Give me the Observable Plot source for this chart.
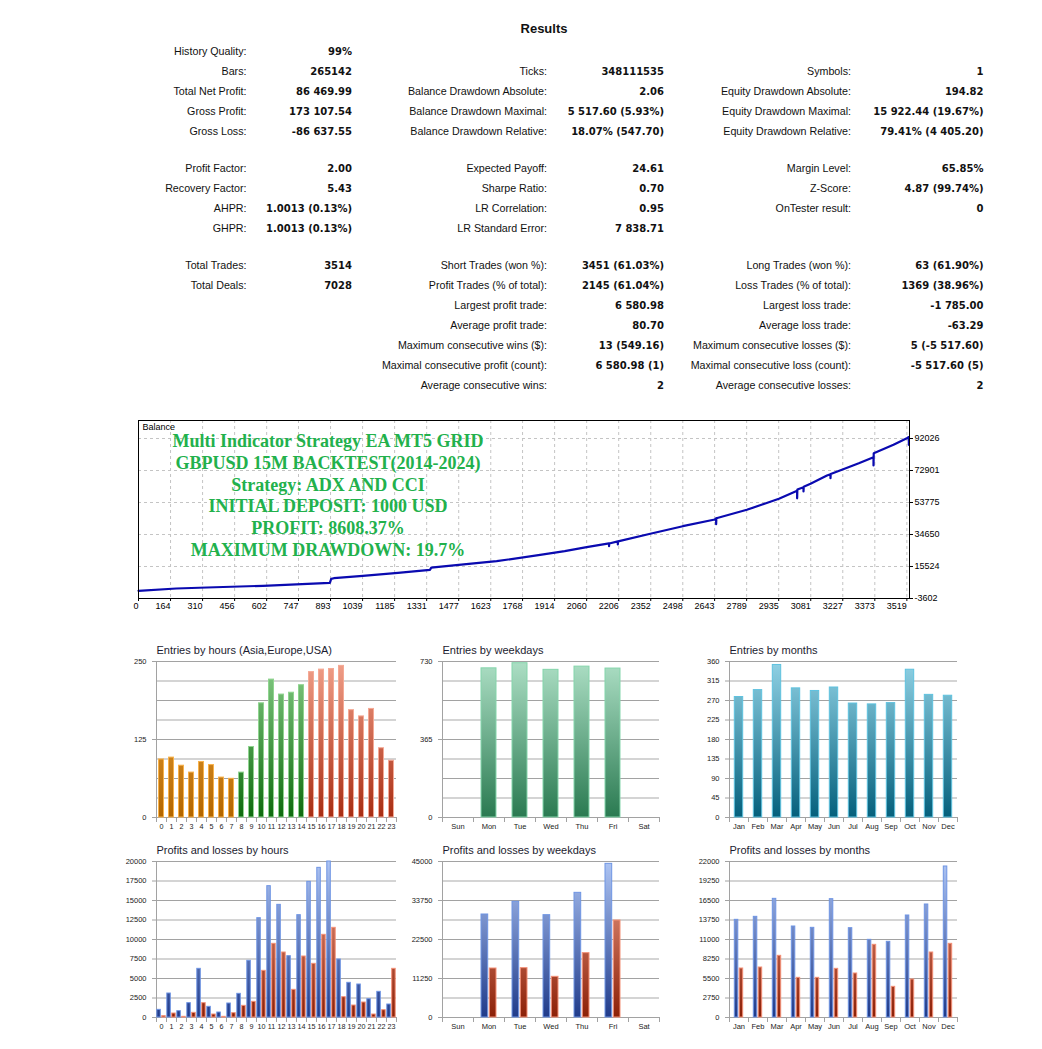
<!DOCTYPE html>
<html><head><meta charset="utf-8">
<script src="https://cdn.jsdelivr.net/npm/d3@7"></script>
<script src="https://cdn.jsdelivr.net/npm/@observablehq/plot@0.6"></script>
<style>
body{margin:0;background:#fff;}
#page{position:relative;width:1042px;height:1049px;overflow:hidden;background:#fff;font-family:"Liberation Sans",Arial,sans-serif;color:#111;}
.cell{position:absolute;font-size:10.7px;line-height:14px;white-space:nowrap;text-align:right;width:320px;}
.val{font-weight:bold;font-family:"DejaVu Sans","Liberation Sans",sans-serif;font-size:10px;margin-top:0.5px;}
#title{position:absolute;left:444px;width:200px;top:21px;text-align:center;font-weight:bold;font-size:13px;}
#overlay{position:absolute;left:128px;width:400px;top:431px;text-align:center;font-family:"Liberation Serif","Times New Roman",serif;font-weight:bold;font-size:18px;line-height:21.8px;color:#22b14c;white-space:nowrap;}
svg.chart{position:absolute;}
</style></head>
<body><div id="page"></div>
<script>
// ---------------- DATA ----------------
const summaryCol1 = [
  ["History Quality:", "99%"], ["Bars:", "265142"], ["Total Net Profit:", "86 469.99"], ["Gross Profit:", "173 107.54"], ["Gross Loss:", "-86 637.55"],
  ["Profit Factor:", "2.00"], ["Recovery Factor:", "5.43"], ["AHPR:", "1.0013 (0.13%)"], ["GHPR:", "1.0013 (0.13%)"],
  ["Total Trades:", "3514"], ["Total Deals:", "7028"], null, null, null, null, null
];
const summaryCol2 = [
  null, ["Ticks:", "348111535"], ["Balance Drawdown Absolute:", "2.06"], ["Balance Drawdown Maximal:", "5 517.60 (5.93%)"], ["Balance Drawdown Relative:", "18.07% (547.70)"],
  ["Expected Payoff:", "24.61"], ["Sharpe Ratio:", "0.70"], ["LR Correlation:", "0.95"], ["LR Standard Error:", "7 838.71"],
  ["Short Trades (won %):", "3451 (61.03%)"], ["Profit Trades (% of total):", "2145 (61.04%)"], ["Largest profit trade:", "6 580.98"],
  ["Average profit trade:", "80.70"], ["Maximum consecutive wins ($):", "13 (549.16)"], ["Maximal consecutive profit (count):", "6 580.98 (1)"], ["Average consecutive wins:", "2"]
];
const summaryCol3 = [
  null, ["Symbols:", "1"], ["Equity Drawdown Absolute:", "194.82"], ["Equity Drawdown Maximal:", "15 922.44 (19.67%)"], ["Equity Drawdown Relative:", "79.41% (4 405.20)"],
  ["Margin Level:", "65.85%"], ["Z-Score:", "4.87 (99.74%)"], ["OnTester result:", "0"], null,
  ["Long Trades (won %):", "63 (61.90%)"], ["Loss Trades (% of total):", "1369 (38.96%)"], ["Largest loss trade:", "-1 785.00"],
  ["Average loss trade:", "-63.29"], ["Maximum consecutive losses ($):", "5 (-5 517.60)"], ["Maximal consecutive loss (count):", "-5 517.60 (5)"], ["Average consecutive losses:", "2"]
];
const overlayLines = [
  "Multi Indicator Strategy EA MT5 GRID",
  "GBPUSD 15M BACKTEST(2014-2024)",
  "Strategy: ADX AND CCI",
  "INITIAL DEPOSIT: 1000 USD",
  "PROFIT: 8608.37%",
  "MAXIMUM DRAWDOWN: 19.7%"
];

const balanceXTicks = [0,164,310,456,602,747,893,1039,1185,1331,1477,1623,1768,1914,2060,2206,2352,2498,2643,2789,2935,3081,3227,3373,3519];
const balanceYTicks = [-3602, 15524, 34650, 53775, 72901, 92026];
const tradeDomain = [18, 3531];
const balanceDomain = [-3602, 102785];
const balanceTrade = [18,190,330,585,890,896,908,1040,1200,1346,1352,1374,1500,1650,1848,1960,2060,
  2162,2162,2163,2202,2202,2203,2350,2498,2644,2650,2650,2651,2790,2936,3019,3019,3020,3048,3048,3049,
  3080,3155,3171,3171,3172,3226,3300,3367,3367,3368,3458,3519,3528,3528];
const balanceValue = [1000,2380,2970,3990,5780,8100,8530,9900,11700,13550,14800,15100,16800,18690,22520,24700,27060,
  29300,27650,29300,30500,28670,30500,35070,39610,43600,44400,40800,44400,49410,55990,60800,56300,61500,62900,60350,63200,
  64950,69920,70700,68300,70800,73500,77200,80850,75890,83240,88270,92210,92900,88270];

const hourLabels = ["0","1","2","3","4","5","6","7","8","9","10","11","12","13","14","15","16","17","18","19","20","21","22","23"];
const weekdays = ["Sun","Mon","Tue","Wed","Thu","Fri","Sat"];
const months = ["Jan","Feb","Mar","Apr","May","Jun","Jul","Aug","Sep","Oct","Nov","Dec"];
const sessionFirstHour = [["Asia", 0], ["Europe", 8], ["USA", 15]];

const entriesByHour = [93,96,83,72,89,84,64,62,72,113,183,221,197,200,212,233,237,238,243,172,162,174,111,91];
const entriesByWeekday = [0,698,722,691,706,697,0];
const entriesByMonth = [278,294,352,298,292,300,263,261,264,341,283,281];

const profitByHour = [983,3077,812,1838,6239,1368,641,1795,3034,7265,12735,16838,14444,7863,13120,17393,19188,20000,7436,4444,4231,2350,3291,1667];
const lossByHour = [171,513,85,598,1838,385,85,556,1496,2009,5983,9444,8333,3547,7821,6880,10598,11496,2607,1538,1923,385,940,6239];
const profitByWeekday = [0,29712,33365,29519,35962,44327,0];
const lossByWeekday = [0,14135,14231,11731,18558,27981,0];
const profitByMonth = [13774,14197,16735,12833,12645,16688,12598,10953,10671,14385,15936,21295];
const lossByMonth = [6910,7051,8697,5594,5594,6863,6205,10248,4325,5359,9167,10389];

// ---------------- STYLES ----------------
const FONT = '"Liberation Sans", Arial, sans-serif';
const palette = {
  gOrange: ["#f6ae45", "#b26600", "#f8b24a"],
  gGreen:  ["#86cc86", "#0f6b0f", "#8fd48f"],
  gRed:    ["#f1a08a", "#a82d12", "#f5a995"],
  gTeal:   ["#addfc5", "#2a7a51", "#84d5ab"],
  gMonth:  ["#91d2e5", "#05607c", "#5ec2df"],
  gProfit: ["#aec5f4", "#203b8a", "#6f95e4"],
  gLoss:   ["#f2a590", "#8c2007", "#f49077"]
};
const sessionGrad = {Asia: "gOrange", Europe: "gGreen", USA: "gRed"};

const page = document.getElementById("page");

// gradients (user space of each bar chart: frame top 21 → bottom 177)
const defsSvg = document.createElementNS("http://www.w3.org/2000/svg", "svg");
defsSvg.setAttribute("width", "0"); defsSvg.setAttribute("height", "0");
defsSvg.style.position = "absolute";
defsSvg.innerHTML = "<defs>" + Object.entries(palette).map(([id, [a, b]]) =>
  `<linearGradient id="${id}" gradientUnits="userSpaceOnUse" x1="0" y1="21" x2="0" y2="177"><stop offset="0" stop-color="${a}"/><stop offset="1" stop-color="${b}"/></linearGradient>`).join("") + "</defs>";
page.appendChild(defsSvg);

// ---------------- RESULTS TABLE ----------------
const t = document.createElement("div"); t.id = "title"; t.textContent = "Results"; page.appendChild(t);
const rightEdges = [246.5, 352, 547, 664, 851, 983.5];
const rowY = i => 51 + 20 * i + (i >= 5 ? 17 : 0) + (i >= 9 ? 17 : 0);
[summaryCol1, summaryCol2, summaryCol3].forEach((col, c) => {
  col.forEach((row, i) => {
    if (!row) return;
    row.forEach((txt, k) => {
      const d = document.createElement("div");
      d.className = "cell" + (k ? " val" : "");
      d.textContent = txt;
      d.style.left = (rightEdges[c * 2 + k] - 320) + "px";
      d.style.top = (rowY(i) - 7) + "px";
      page.appendChild(d);
    });
  });
});

// ---------------- BALANCE CHART ----------------
const xTickPos = balanceXTicks.map(v => Math.max(v, tradeDomain[0]));
const balData = balanceTrade.map((tr, i) => ({t: tr, v: balanceValue[i]}));
const grid = {stroke: "#c4c4c4", strokeDasharray: "3,3"};
const bal = Plot.plot({
  width: 860, height: 210, marginLeft: 8, marginRight: 81, marginTop: 10, marginBottom: 22,
  x: {domain: tradeDomain, axis: null},
  y: {domain: balanceDomain, axis: null},
  style: {fontFamily: FONT, fontSize: "9px", color: "#000", background: "none", overflow: "visible"},
  marks: [
    Plot.ruleX(xTickPos, {x: d => d, ...grid}),
    Plot.ruleY(balanceYTicks, {y: d => d, ...grid}),
    Plot.line(balData, {x: "t", y: "v", stroke: "#0a0ab0", strokeWidth: 2.2}),
    Plot.frame({stroke: "#000"}),
    Plot.ruleX(xTickPos, {x: d => d, y1: balanceDomain[0], y2: balanceDomain[0], insetBottom: -3, stroke: "#000"}),
    Plot.ruleY(balanceYTicks, {y: d => d, x1: tradeDomain[1], x2: tradeDomain[1], insetRight: -4, stroke: "#000"}),
    Plot.text(xTickPos, {x: d => d, frameAnchor: "bottom", lineAnchor: "middle", dy: 8, dx: (0), textAnchor: "end", text: (d, i) => String(balanceXTicks[i]), fill: "#000"}),
    Plot.text(balanceYTicks, {y: d => d, frameAnchor: "right", lineAnchor: "middle", dx: 5, textAnchor: "start", text: d => String(d), fill: "#000"}),
    Plot.text(["Balance"], {frameAnchor: "top-left", lineAnchor: "middle", dx: 4, dy: 7, textAnchor: "start", fill: "#000"})
  ]
});
bal.classList.add("chart");
bal.style.left = "130px"; bal.style.top = "410px";
page.appendChild(bal);

const ov = document.createElement("div"); ov.id = "overlay";
ov.innerHTML = overlayLines.map(s => `<div>${s}</div>`).join("");
page.appendChild(ov);

// ---------------- BAR CHARTS ----------------
function barChart({left, top, title, cats, step, yMax, yLabels, bars, labelSize}) {
  const n = cats.length, mL = 46, mT = 21, mB = 18, mR = 10;
  const div = yMax / 8;
  const lines = d3.range(9).map(i => i * div);
  const dark = lines.filter((d, i) => i % 2 === 0);
  const light = lines.filter((d, i) => i % 2 === 1);
  const marks = [
    Plot.ruleY(light, {y: d => d, stroke: "#d4d4d4", strokeWidth: 2}),
    Plot.ruleY(dark, {y: d => d, stroke: "#a2a2a2"}),
    Plot.ruleY(yLabels, {y: d => d, stroke: "#a2a2a2", insetLeft: -4, insetRight: n * step}),
    Plot.ruleX([cats[0]], {x: d => d, dx: -step / 2, y1: 0, y2: yMax, stroke: "#a2a2a2"}),
    Plot.ruleX(cats, {x: d => d, dx: -step / 2, y1: 0, y2: 0, insetBottom: -5, stroke: "#a2a2a2"}),
    Plot.ruleX([cats[n - 1]], {x: d => d, dx: step / 2, y1: 0, y2: 0, insetBottom: -5, stroke: "#a2a2a2"}),
    ...bars,
    Plot.text(cats, {x: d => d, frameAnchor: "bottom", lineAnchor: "middle", dy: 9, fontSize: labelSize, fill: "#222"}),
    Plot.text(yLabels, {y: d => d, frameAnchor: "left", lineAnchor: "middle", dx: -10, textAnchor: "end", fontSize: 7.5, fill: "#222", text: d => String(d)}),
    Plot.text([title], {frameAnchor: "top-left", lineAnchor: "middle", dy: -11, textAnchor: "start", fontSize: 11, fill: "#1c1c30"})
  ];
  const svg = Plot.plot({
    width: mL + n * step + mR, height: 195, marginLeft: mL, marginRight: mR, marginTop: mT, marginBottom: mB,
    x: {type: "band", domain: cats, padding: 0, axis: null},
    y: {domain: [0, yMax], axis: null},
    style: {fontFamily: FONT, background: "none", overflow: "visible"},
    marks
  });
  svg.classList.add("chart");
  svg.style.left = left + "px"; svg.style.top = top + "px";
  page.appendChild(svg);
}
function single(cats, values, grad, step, w, filter) {
  const ins = (step - w) / 2 + 0.5;
  const data = cats.map((c, i) => ({c, v: values[i], i})).filter(filter || (() => true));
  return Plot.barY(data, {x: "c", y: "v", fill: `url(#${grad})`, stroke: palette[grad][2], strokeWidth: 1, insetLeft: ins, insetRight: ins});
}
function pair(cats, profit, loss, step, w, gap) {
  const outer = (step - w) / 2 + 0.5, inner = step / 2 + gap / 2 + 0.5;
  const dp = cats.map((c, i) => ({c, v: profit[i]}));
  const dl = cats.map((c, i) => ({c, v: loss[i]}));
  return [
    Plot.barY(dp, {x: "c", y: "v", fill: "url(#gProfit)", stroke: palette.gProfit[2], insetLeft: outer, insetRight: inner}),
    Plot.barY(dl, {x: "c", y: "v", fill: "url(#gLoss)", stroke: palette.gLoss[2], insetLeft: inner, insetRight: outer})
  ];
}
const sessionOf = h => sessionFirstHour.filter(([, f]) => h >= f).pop()[0];

barChart({left: 110, top: 640, title: "Entries by hours (Asia,Europe,USA)", cats: hourLabels, step: 10, yMax: 250, yLabels: [0, 125, 250], labelSize: 7.2,
  bars: sessionFirstHour.map(([s]) => single(hourLabels, entriesByHour, sessionGrad[s], 10, 6, d => sessionOf(d.i) === s))});
barChart({left: 396, top: 640, title: "Entries by weekdays", cats: weekdays, step: 31, yMax: 730, yLabels: [0, 365, 730], labelSize: 7.5,
  bars: [single(weekdays, entriesByWeekday, "gTeal", 31, 16, d => d.v > 0)]});
barChart({left: 683, top: 640, title: "Entries by months", cats: months, step: 19, yMax: 360, yLabels: d3.range(0, 361, 45), labelSize: 7.5,
  bars: [single(months, entriesByMonth, "gMonth", 19, 9.4)]});

barChart({left: 110, top: 840, title: "Profits and losses by hours", cats: hourLabels, step: 10, yMax: 20000, yLabels: d3.range(0, 20001, 2500), labelSize: 7.2,
  bars: pair(hourLabels, profitByHour, lossByHour, 10, 9.4, 0.4)});
barChart({left: 396, top: 840, title: "Profits and losses by weekdays", cats: weekdays, step: 31, yMax: 45000, yLabels: [0, 11250, 22500, 33750, 45000], labelSize: 7.5,
  bars: pair(weekdays, profitByWeekday, lossByWeekday, 31, 16, 0.6)});
barChart({left: 683, top: 840, title: "Profits and losses by months", cats: months, step: 19, yMax: 22000, yLabels: d3.range(0, 22001, 2750), labelSize: 7.5,
  bars: pair(months, profitByMonth, lossByMonth, 19, 9.4, 0.4)});
</script>
</body></html>
